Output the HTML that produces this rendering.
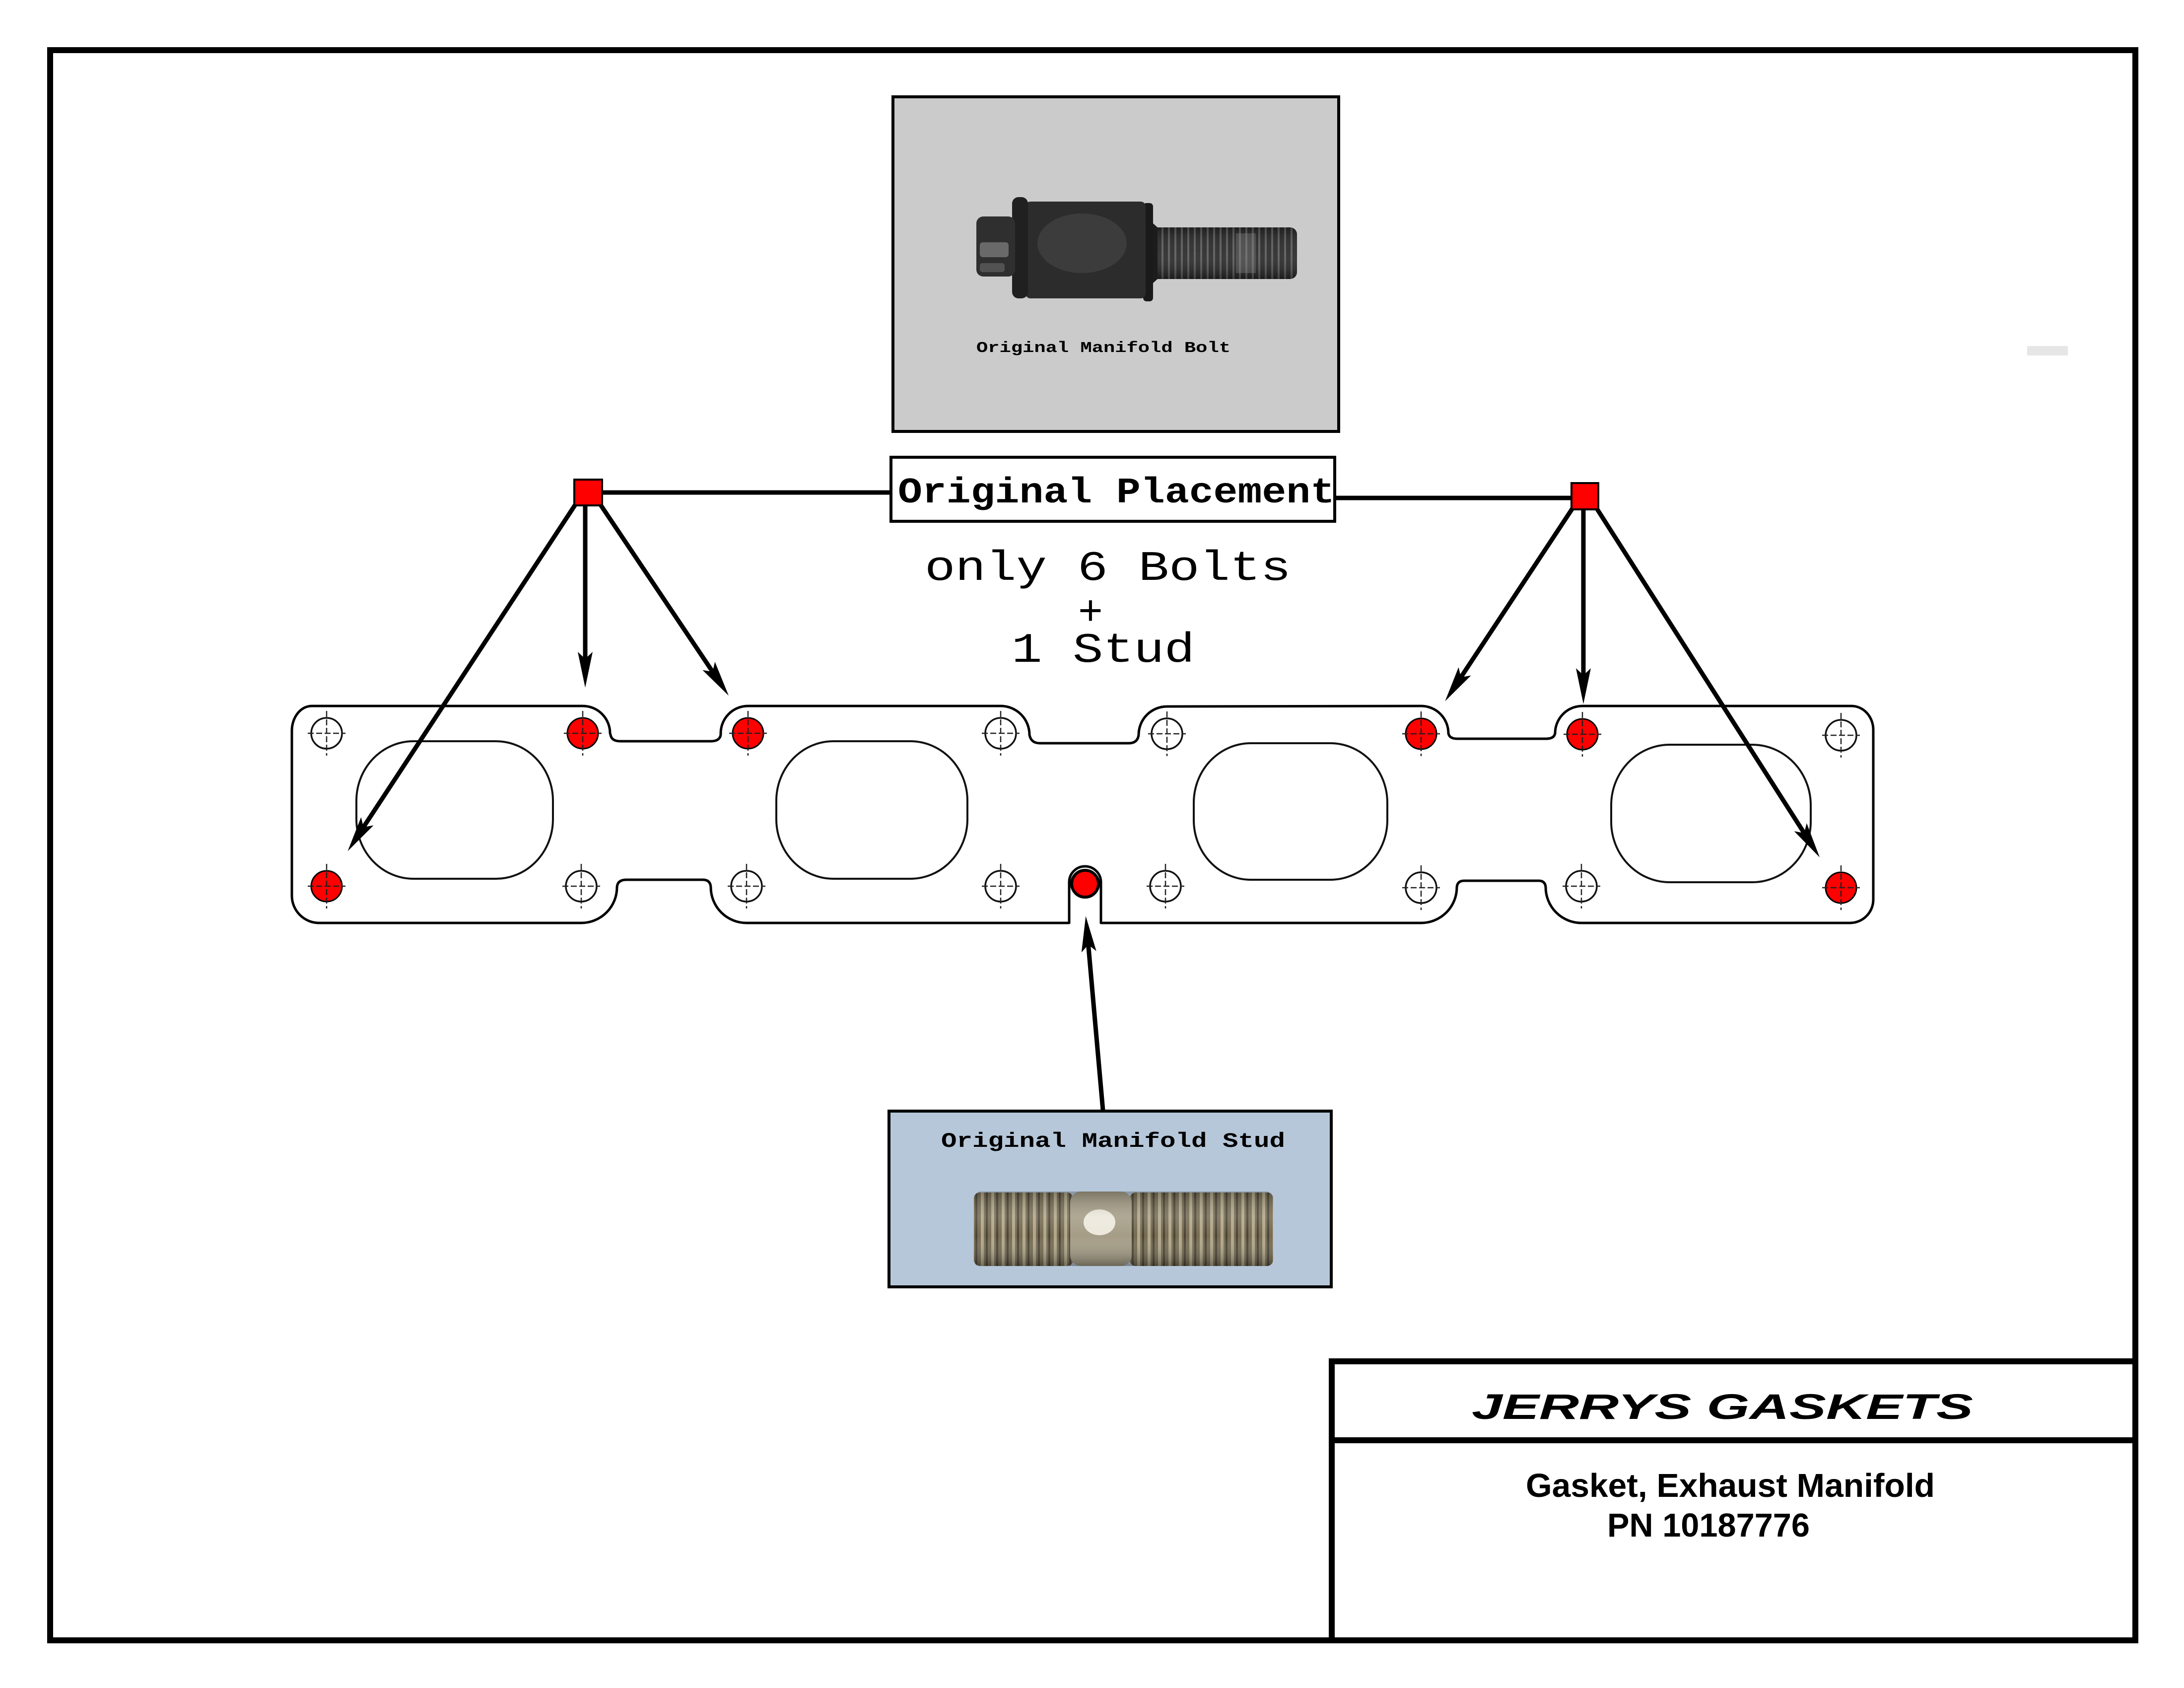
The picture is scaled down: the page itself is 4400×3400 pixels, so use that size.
<!DOCTYPE html>
<html>
<head>
<meta charset="utf-8">
<style>
  html,body{margin:0;padding:0;background:#fff;}
  svg{display:block;}
</style>
</head>
<body>
<svg xmlns="http://www.w3.org/2000/svg" width="4400" height="3400" viewBox="0 0 4400 3400">
  <defs>
    <marker id="ah" markerUnits="userSpaceOnUse" markerWidth="90" markerHeight="40" viewBox="-25 -20 90 40" refX="0" refY="0" orient="auto" overflow="visible">
      <path d="M52,0 L-20,-15 L-6,0 L-20,15 Z" fill="#000"/>
    </marker>
    <pattern id="thr" patternUnits="userSpaceOnUse" width="13" height="20">
      <rect width="13" height="20" fill="#262626"/>
      <rect x="0" width="4" height="20" fill="#585858"/>
    </pattern>
    <pattern id="sthr" patternUnits="userSpaceOnUse" width="21" height="20">
      <rect width="21" height="20" fill="#776c52"/>
      <rect x="2" width="6" height="20" fill="#b0a68a"/>
      <rect x="12" width="4" height="20" fill="#4a4436"/>
    </pattern>
    <linearGradient id="sgrad" x1="0" y1="0" x2="0" y2="1">
      <stop offset="0" stop-color="#000" stop-opacity="0.25"/>
      <stop offset="0.35" stop-color="#fff" stop-opacity="0.12"/>
      <stop offset="0.6" stop-color="#fff" stop-opacity="0"/>
      <stop offset="1" stop-color="#000" stop-opacity="0.35"/>
    </linearGradient>
    <linearGradient id="bgrad" x1="0" y1="0" x2="0" y2="1">
      <stop offset="0" stop-color="#000" stop-opacity="0.2"/>
      <stop offset="0.45" stop-color="#fff" stop-opacity="0.08"/>
      <stop offset="1" stop-color="#000" stop-opacity="0.3"/>
    </linearGradient>
  </defs>

  <!-- page border -->
  <rect x="101" y="101" width="4201" height="3203" fill="#fff" stroke="#000" stroke-width="12"/>

  <!-- faint gray mark -->
  <rect x="4084" y="697" width="82" height="19" fill="#e6e6e6"/>

  <!-- ===== Bolt photo ===== -->
  <rect x="1799" y="195" width="898" height="674" fill="#cbcbcb" stroke="#000" stroke-width="6"/>
  <g>
    <rect x="2318" y="458" width="295" height="104" rx="14" fill="url(#thr)"/>
    <rect x="2318" y="458" width="295" height="104" rx="14" fill="url(#bgrad)"/>
    <rect x="2490" y="470" width="40" height="80" fill="#8a8a8a" opacity="0.35"/>
    <polygon points="2303,432 2332,458 2332,562 2303,588" fill="#1c1c1c"/>
    <rect x="2303" y="409" width="20" height="198" rx="7" fill="#1a1a1a"/>
    <rect x="2066" y="406" width="242" height="195" rx="10" fill="#2c2c2c"/>
    <ellipse cx="2180" cy="490" rx="90" ry="60" fill="#4a4a4a" opacity="0.55"/>
    <rect x="2039" y="397" width="32" height="204" rx="13" fill="#202020"/>
    <rect x="1967" y="436" width="78" height="121" rx="14" fill="#2f2f2f"/>
    <rect x="1974" y="488" width="58" height="30" rx="6" fill="#7d7d7d" opacity="0.75"/>
    <rect x="1974" y="530" width="50" height="18" rx="5" fill="#6a6a6a" opacity="0.6"/>
  </g>
  <text x="1967" y="709" font-family="'Liberation Mono', monospace" font-weight="bold" font-size="31" textLength="512" lengthAdjust="spacingAndGlyphs" fill="#000">Original Manifold Bolt</text>

  <!-- ===== Stud photo ===== -->
  <rect x="1791" y="2238" width="891" height="354" fill="#b6c7d9" stroke="#000" stroke-width="6"/>
  <g>
    <rect x="1962" y="2402" width="200" height="148" rx="12" fill="url(#sthr)"/>
    <rect x="2276" y="2402" width="289" height="148" rx="12" fill="url(#sthr)"/>
    <rect x="2156" y="2400" width="124" height="150" rx="22" fill="#a59d86"/>
    <ellipse cx="2215" cy="2462" rx="32" ry="26" fill="#ece8dc"/>
    <rect x="1962" y="2400" width="603" height="150" rx="14" fill="url(#sgrad)"/>
  </g>
  <text x="1896" y="2310" font-family="'Liberation Mono', monospace" font-weight="bold" font-size="42" textLength="693" lengthAdjust="spacingAndGlyphs" fill="#000">Original Manifold Stud</text>

  <!-- ===== Gasket ===== -->
  <path d="M 588,1472 A 40 50 0 0 1 628,1422 L 1174,1422 A 55 55 0 0 1 1229,1477 L 1230,1480 Q 1232,1493 1250,1493 L 1432,1493 Q 1450,1493 1452,1480 L 1452,1477 A 55 55 0 0 1 1507,1422 L 2016,1422 A 58 58 0 0 1 2074,1480 Q 2077,1497 2095,1497 L 2274,1497 Q 2292,1497 2294,1480 A 57 57 0 0 1 2351,1423 L 2863,1422 A 55 55 0 0 1 2918,1477 Q 2920,1488 2936,1488 L 3115,1488 Q 3131,1488 3133,1477 A 55 55 0 0 1 3188,1422 L 3730,1422 A 44 48 0 0 1 3774,1470 L 3774,1812 A 47 47 0 0 1 3727,1859 L 3186,1859 A 72 72 0 0 1 3114,1787 Q 3113,1774 3100,1774 L 2950,1774 Q 2936,1774 2935,1787 A 72 72 0 0 1 2863,1859 L 2218,1859 L 2218,1777 A 32 32 0 0 0 2154,1777 L 2154,1859 L 1504,1859 A 72 72 0 0 1 1432,1787 Q 1431,1772 1416,1772 L 1262,1772 Q 1244,1772 1243,1787 A 72 72 0 0 1 1171,1859 L 643,1859 A 55 55 0 0 1 588,1804 Z" fill="#fff" stroke="#000" stroke-width="5" stroke-linejoin="round"/>

  <!-- ports -->
  <g fill="none" stroke="#111" stroke-width="4">
    <rect x="718" y="1493" width="396" height="277" rx="115" ry="120"/>
    <rect x="1564" y="1493" width="385" height="277" rx="115" ry="120"/>
    <rect x="2405" y="1497" width="390" height="275" rx="115" ry="120"/>
    <rect x="3246" y="1500" width="402" height="277" rx="118" ry="122"/>
  </g>

  <!-- red holes -->
  <g fill="#ff0000" stroke="#000" stroke-width="3">
    <circle cx="1174" cy="1477" r="31"/>
    <circle cx="1507" cy="1477" r="31"/>
    <circle cx="2863" cy="1478" r="31"/>
    <circle cx="3188" cy="1479" r="31"/>
    <circle cx="658" cy="1785" r="31"/>
    <circle cx="3709" cy="1788" r="31"/>
    <circle cx="2186" cy="1780" r="27" stroke-width="6"/>
  </g>
  <!-- white holes -->
  <g fill="none" stroke="#111" stroke-width="3.5">
    <circle cx="658" cy="1477" r="31"/>
    <circle cx="2016" cy="1477" r="31"/>
    <circle cx="2351" cy="1478" r="31"/>
    <circle cx="3709" cy="1481" r="31"/>
    <circle cx="1171" cy="1785" r="31"/>
    <circle cx="1504" cy="1785" r="31"/>
    <circle cx="2016" cy="1785" r="31"/>
    <circle cx="2348" cy="1785" r="31"/>
    <circle cx="2863" cy="1788" r="31"/>
    <circle cx="3186" cy="1785" r="31"/>
  </g>
  <!-- crosshairs -->
  <g stroke="#222" stroke-width="2.5" stroke-dasharray="12,5" fill="none">
    <path d="M658,1432 V1522 M620,1477 H696"/>
    <path d="M1174,1432 V1522 M1136,1477 H1212"/>
    <path d="M1507,1432 V1522 M1469,1477 H1545"/>
    <path d="M2016,1432 V1522 M1978,1477 H2054"/>
    <path d="M2351,1433 V1523 M2313,1478 H2389"/>
    <path d="M2863,1433 V1523 M2825,1478 H2901"/>
    <path d="M3188,1434 V1524 M3150,1479 H3226"/>
    <path d="M3709,1436 V1526 M3671,1481 H3747"/>
    <path d="M658,1740 V1830 M620,1785 H696"/>
    <path d="M1171,1740 V1830 M1133,1785 H1209"/>
    <path d="M1504,1740 V1830 M1466,1785 H1542"/>
    <path d="M2016,1740 V1830 M1978,1785 H2054"/>
    <path d="M2348,1740 V1830 M2310,1785 H2386"/>
    <path d="M2863,1743 V1833 M2825,1788 H2901"/>
    <path d="M3186,1740 V1830 M3148,1785 H3224"/>
    <path d="M3709,1743 V1833 M3671,1788 H3747"/>
  </g>

  <!-- ===== Placement box & connectors ===== -->
  <line x1="1213" y1="992" x2="1795" y2="992" stroke="#000" stroke-width="9"/>
  <line x1="2689" y1="1003" x2="3166" y2="1003" stroke="#000" stroke-width="9"/>
  <rect x="1795" y="921" width="894" height="129" fill="#fff" stroke="#000" stroke-width="6"/>
  <text x="1809" y="1012" font-family="'Liberation Mono', monospace" font-weight="bold" font-size="72" textLength="880" lengthAdjust="spacingAndGlyphs" fill="#000">Original Placement</text>

  <text x="1863" y="1168" font-family="'Liberation Mono', monospace" font-size="84" textLength="738" lengthAdjust="spacingAndGlyphs" fill="#000">only 6 Bolts</text>
  <text x="2197" y="1258" text-anchor="middle" font-family="'Liberation Mono', monospace" font-size="84" fill="#000">+</text>
  <text x="2038" y="1333" font-family="'Liberation Mono', monospace" font-size="84" textLength="369" lengthAdjust="spacingAndGlyphs" fill="#000">1 Stud</text>

  <!-- arrows -->
  <g stroke="#000" stroke-width="9" fill="none" marker-end="url(#ah)">
    <line x1="1160" y1="1015" x2="729" y2="1671"/>
    <line x1="1179" y1="1018" x2="1179" y2="1333"/>
    <line x1="1210" y1="1017" x2="1439" y2="1358"/>
    <line x1="3168" y1="1024" x2="2940" y2="1369"/>
    <line x1="3190" y1="1026" x2="3190" y2="1366"/>
    <line x1="3218" y1="1026" x2="3638" y2="1683"/>
    <line x1="2222" y1="2236" x2="2192" y2="1897"/>
  </g>

  <!-- red squares -->
  <rect x="1157" y="966" width="56" height="52" fill="#ff0000" stroke="#000" stroke-width="4"/>
  <rect x="3166" y="973" width="54" height="53" fill="#ff0000" stroke="#000" stroke-width="4"/>

  <!-- ===== Title block ===== -->
  <line x1="2683" y1="2736" x2="2683" y2="3304" stroke="#000" stroke-width="12"/>
  <line x1="2677" y1="2742" x2="4302" y2="2742" stroke="#000" stroke-width="12"/>
  <line x1="2683" y1="2901" x2="4302" y2="2901" stroke="#000" stroke-width="12"/>
  <text x="2965" y="2858" font-family="'Liberation Sans', sans-serif" font-weight="bold" font-style="italic" font-size="71" textLength="1010" lengthAdjust="spacingAndGlyphs" fill="#000">JERRYS GASKETS</text>
  <text x="3074" y="3015" font-family="'Liberation Sans', sans-serif" font-weight="bold" font-size="67" textLength="824" lengthAdjust="spacingAndGlyphs" fill="#000">Gasket, Exhaust Manifold</text>
  <text x="3238" y="3095" font-family="'Liberation Sans', sans-serif" font-weight="bold" font-size="67" textLength="408" lengthAdjust="spacingAndGlyphs" fill="#000">PN 10187776</text>
</svg>
</body>
</html>
